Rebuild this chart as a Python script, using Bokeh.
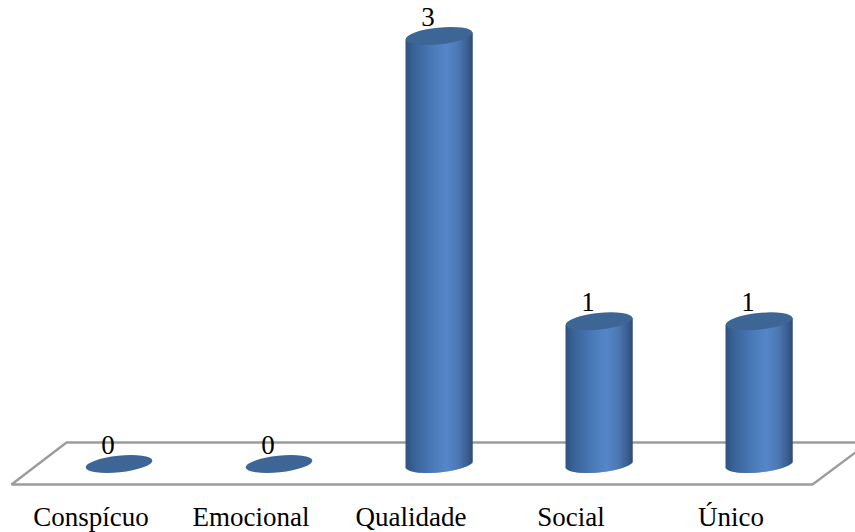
from bokeh.core.properties import value
from bokeh.embed import file_html
from bokeh.models import Range1d
from bokeh.plotting import figure
from bokeh.resources import INLINE
import numpy as np

categories = ["Conspícuo", "Emocional", "Qualidade", "Social", "Único"]
counts = [0, 0, 3, 1, 1]

WIDTH, HEIGHT = 855, 532
X_STEP = 160.0      # pixels between categories
X_ZERO = 118.5      # pixel of the first category
Y_ZERO = 463.5      # pixel of the value 0
Y_UNIT = 142.7      # pixels per unit
RX, RY = 33.5, 8.3  # cylinder ellipse half axes
TILT = np.radians(6.0)

FONT = "Liberation Serif"
FLOOR = "#9c9c9c"
CAP = "#3d6596"
STOPS_AT = [0.0, 0.1, 0.35, 0.6, 0.78, 0.92, 1.0]
STOPS_RGB = [(48, 82, 128), (56, 96, 148), (70, 118, 178), (86, 134, 202), (76, 122, 182), (60, 96, 146), (48, 76, 116)]


def sx(px):
    return (np.asarray(px, dtype=float) - X_ZERO) / X_STEP


def sy(px):
    return (Y_ZERO - np.asarray(px, dtype=float)) / Y_UNIT


p = figure(
    width=WIDTH, height=HEIGHT, output_backend="svg", toolbar_location=None,
    x_range=Range1d(sx(0.0), sx(WIDTH)), y_range=Range1d(sy(HEIGHT), sy(0.0)),
    min_border=0, outline_line_color=None, background_fill_color="white",
)
p.axis.visible = False
p.grid.visible = False

# Floor of the 3D plot
p.line(sx([855, 66, 11, 812, 855]), sy([442, 442, 484, 484, 452]),
       line_color=FLOOR, line_width=2.4)


def lower_edge(dx):
    """Downward pixel offset of the lower rim of an ellipse rising to the right."""
    c, s = np.cos(TILT), np.sin(TILT)
    # Solve the ellipse equation for dy and keep the lower root
    a = (s / RX) ** 2 + (c / RY) ** 2
    b = -2 * dx * c * s * (1 / RX ** 2 - 1 / RY ** 2)
    d = (dx * c / RX) ** 2 + (dx * s / RY) ** 2 - 1
    return (-b + np.sqrt(np.maximum(b * b - 4 * a * d, 0))) / (2 * a)


# Cylinder bodies, shaded with narrow vertical strips; each strip runs under
# the next one so that no background shows through the seams
for i, count in enumerate(counts):
    if count <= 0:
        continue
    offsets = np.arange(-RX, RX, 1.0)
    centres = offsets + 0.5
    t = (centres + RX) / (2 * RX)
    rgb = np.array([np.interp(t, STOPS_AT, [c[k] for c in STOPS_RGB]) for k in range(3)]).T
    colors = ["#%02x%02x%02x" % tuple(int(round(v)) for v in row) for row in rgb]
    bottoms = Y_ZERO + lower_edge(centres)
    rights = np.minimum(offsets + 2.0, RX)
    # The strips end on the tilted long axis of the cap
    tops = count + centres * np.tan(TILT) / Y_UNIT
    p.quad(left=i + offsets / X_STEP, right=i + rights / X_STEP,
           bottom=sy(bottoms), top=tops,
           fill_color=colors, line_color=None)

# Elliptical caps
p.ellipse(x=list(range(len(counts))), y=counts, width=2 * RX, height=2 * RY,
          width_units="screen", height_units="screen", angle=TILT,
          fill_color=CAP, line_color=None)

# Value labels
p.text(x=list(range(len(counts))), y=counts, text=[str(c) for c in counts],
       x_offset=-11, y_offset=-19, text_align="center", text_baseline="middle",
       text_font=value(FONT), text_font_size="27px", text_color="black")

# Category labels
p.text(x=list(range(len(counts))), y=[sy(516.0)] * len(counts), text=categories,
       x_offset=-28, text_align="center", text_baseline="middle",
       text_font=value(FONT), text_font_size="27px", text_color="black")

open("out.html", "w").write(file_html(p, INLINE))
